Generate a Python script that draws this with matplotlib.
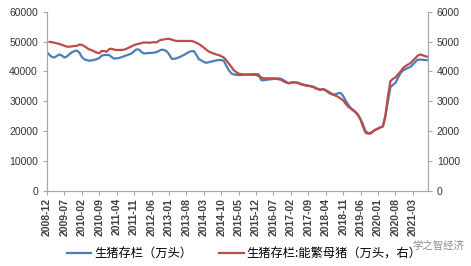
import numpy as np
import pandas as pd
import matplotlib
matplotlib.use("Agg")
import matplotlib.pyplot as plt

plt.rcParams["font.family"] = ["Liberation Sans", "Noto Sans CJK SC", "DejaVu Sans"]

# 月度数据, 2008-12 起
months = pd.date_range("2008-12-01", periods=154, freq="MS")

# 生猪存栏（万头）
hogs = [
    46400,
    45500, 44800, 44700, 45200, 45700, 45300, 44700, 45000, 45800, 46400, 46800, 47000,  # 2009
    46300, 44800, 44100, 43800, 43600, 43700, 43900, 44100, 44500, 45300, 45500, 45500,  # 2010
    45500, 44800, 44300, 44400, 44500, 44800, 45100, 45400, 45700, 46000, 46800, 47400,  # 2011
    47300, 46500, 46000, 46100, 46200, 46200, 46300, 46500, 46900, 47300, 47200, 46800,  # 2012
    45800, 44300, 44200, 44400, 44700, 45100, 45500, 46000, 46500, 46800, 46800, 45600,  # 2013
    44100, 43700, 43200, 42900, 43100, 43300, 43500, 43700, 43800, 43800, 43600, 42000,  # 2014
    40500, 39400, 39000, 38900, 38800, 38800, 38900, 39000, 39000, 39100, 39100, 39100,  # 2015
    39100, 37200, 37000, 37200, 37300, 37400, 37500, 37600, 37700, 37600, 37100, 36600,  # 2016
    36000, 36200, 36300, 36400, 36200, 35900, 35600, 35400, 35200, 35100, 34900, 34500,  # 2017
    34100, 33900, 34100, 33600, 33000, 32500, 32200, 32400, 32700, 32800, 31800, 30200,  # 2018
    28900, 27800, 27200, 26500, 25600, 24000, 22300, 20000, 19400, 19400, 19900, 20500,  # 2019
    20900, 21300, 21700, 25000, 30000, 34800, 35500, 36200, 37800, 39400, 40300, 40800,  # 2020
    41200, 41500, 42300, 43200, 43900, 44000, 43900, 43800, 43800,                       # 2021
]

# 生猪存栏:能繁母猪（万头，右轴）
sows = [
    np.nan,
    4990, 4980, 4960, 4940, 4920, 4890, 4860, 4830, 4830, 4840, 4850, 4860,  # 2009
    4900, 4890, 4850, 4790, 4740, 4710, 4670, 4630, 4610, 4690, 4680, 4660,  # 2010
    4750, 4760, 4730, 4720, 4720, 4720, 4730, 4760, 4800, 4840, 4880, 4910,  # 2011
    4930, 4950, 4970, 4970, 4960, 4970, 4980, 4970, 5030, 5060, 5070, 5090,  # 2012
    5090, 5070, 5040, 5020, 5020, 5020, 5020, 5020, 5020, 5020, 5000, 4960,  # 2013
    4920, 4860, 4800, 4730, 4670, 4630, 4600, 4570, 4550, 4510, 4470, 4380,  # 2014
    4270, 4160, 4050, 3980, 3930, 3910, 3900, 3890, 3890, 3890, 3890, 3880,  # 2015
    3850, 3810, 3770, 3770, 3770, 3770, 3770, 3760, 3740, 3720, 3670, 3630,  # 2016
    3610, 3630, 3640, 3630, 3600, 3570, 3550, 3530, 3520, 3500, 3480, 3430,  # 2017
    3400, 3390, 3410, 3380, 3330, 3280, 3230, 3190, 3150, 3090, 3030, 2920,  # 2018
    2820, 2760, 2700, 2630, 2530, 2390, 2150, 1950, 1920, 1920, 2000, 2050,  # 2019
    2090, 2130, 2160, 2540, 3170, 3680, 3750, 3800, 3900, 3990, 4110, 4180,  # 2020
    4230, 4280, 4360, 4440, 4530, 4570, 4540, 4510, 4490,                    # 2021
]

tick_labels = [
    "2008-12", "2009-07", "2010-02", "2010-09", "2011-04", "2011-11", "2012-06",
    "2013-01", "2013-08", "2014-03", "2014-10", "2015-05", "2015-12", "2016-07",
    "2017-02", "2017-09", "2018-04", "2018-11", "2019-06", "2020-01", "2020-08",
    "2021-03",
]

blue = "#4a7ebb"
red = "#be4b48"
grey = "#a6a6a6"
cjk = ["Noto Sans CJK SC", "DejaVu Sans"]

fig = plt.figure(figsize=(4.71, 2.66), dpi=100)
ax = fig.add_axes([0.0998, 0.282, 0.8085, 0.674])
ax2 = ax.twinx()

l1, = ax.plot(months, hogs, color=blue, lw=1.6, label="生猪存栏（万头）")
l2, = ax2.plot(months, sows, color=red, lw=1.6, label="生猪存栏:能繁母猪（万头，右）")

ax.set_ylim(0, 60000)
ax2.set_ylim(0, 6000)
ax.set_yticks(np.arange(0, 60001, 10000))
ax2.set_yticks(np.arange(0, 6001, 1000))
ax.set_xlim(months[0], months[-1])

ticks = pd.to_datetime(tick_labels, format="%Y-%m")
ax.set_xticks(ticks)
ax.set_xticklabels(tick_labels, rotation=90, fontsize=7.5, fontweight="bold")

for a in (ax, ax2):
    for s in a.spines.values():
        s.set_color(grey)
        s.set_linewidth(0.8)
    a.spines["top"].set_visible(False)
    a.tick_params(colors=grey, length=3, width=0.8, labelcolor="#333333", labelsize=7.5)
ax.tick_params(axis="x", labelcolor="#404040", labelsize=7.5, pad=2)

fig.legend(handles=[l1, l2], loc="center left", bbox_to_anchor=(0.142, 0.046), ncol=2,
           frameon=False, handlelength=2.0, handletextpad=0.25, columnspacing=2.2,
           borderaxespad=0, borderpad=0,
           prop={"family": cjk, "size": 8.8})

fig.text(0.875, 0.075, "学之智经济", fontsize=7.5, color="#8c8c8c", family=cjk, va="center")

fig.savefig("out.png", dpi=100)
